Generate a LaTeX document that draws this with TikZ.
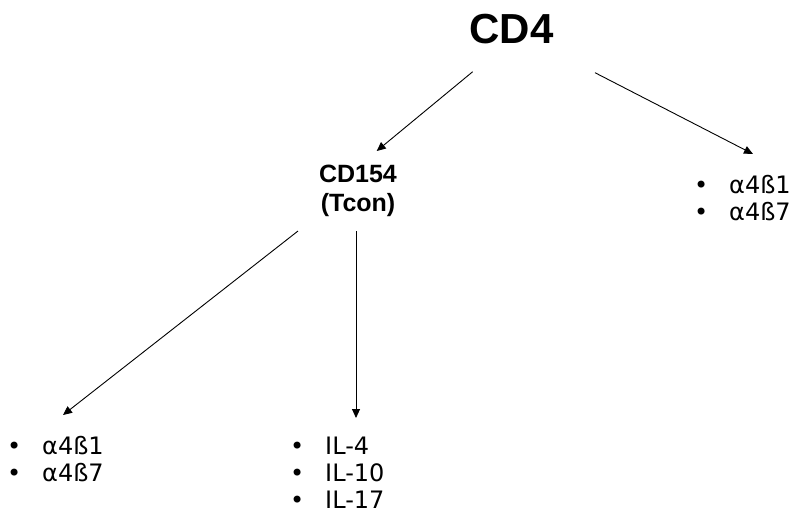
\documentclass[tikz,border=0pt]{standalone}
\usepackage{fontspec}
\setmainfont{Liberation Sans}
\newfontfamily\listfont{DejaVu Sans}
\usetikzlibrary{arrows.meta}
\newcommand{\bitem}[1]{\makebox[0pt]{•}\hspace{28pt}#1}
\begin{document}
\begin{tikzpicture}[x=1pt,y=-1pt,
  title/.style={inner sep=0pt,font=\fontsize{42}{48}\selectfont\bfseries},
  sub/.style={inner sep=0pt,align=center,font=\fontsize{25}{29}\selectfont\bfseries},
  li/.style={inner sep=0pt,anchor=base west,font=\listfont\fontsize{24}{27}\selectfont},
  arr/.style={line width=0.9pt,-{Triangle[length=9pt,width=8pt]}}]
\useasboundingbox[fill=white] (0,0) rectangle (791,515);

\node[title,anchor=base] (cd4) at (511.5,43) {CD4};
\node[sub,anchor=north] (cd154) at (358,165) {CD154\\(Tcon)};

\node[li] (r1) at (701,193.3) {\bitem{α4ß1}};
\node[li] (r2) at (701,220) {\bitem{α4ß7}};

\node[li] (l1) at (14,454) {\bitem{α4ß1}};
\node[li] (l2) at (14,481.5) {\bitem{α4ß7}};

\node[li] (m1) at (297,454) {\bitem{IL-4}};
\node[li] (m2) at (297,481.5) {\bitem{IL-10}};
\node[li] (m3) at (297,508) {\bitem{IL-17}};

\coordinate (a1s) at (472.7,71.7);
\coordinate (a1e) at (376.7,151);
\coordinate (a2s) at (595,72.7);
\coordinate (a2e) at (753,154);
\coordinate (a3s) at (298,231);
\coordinate (a3e) at (63,415);
\coordinate (a4s) at (356,231);
\coordinate (a4e) at (356,418);

\draw[arr] (a1s) -- (a1e);
\draw[arr] (a2s) -- (a2e);
\draw[arr] (a3s) -- (a3e);
\draw[arr] (a4s) -- (a4e);
\end{tikzpicture}
\end{document}
